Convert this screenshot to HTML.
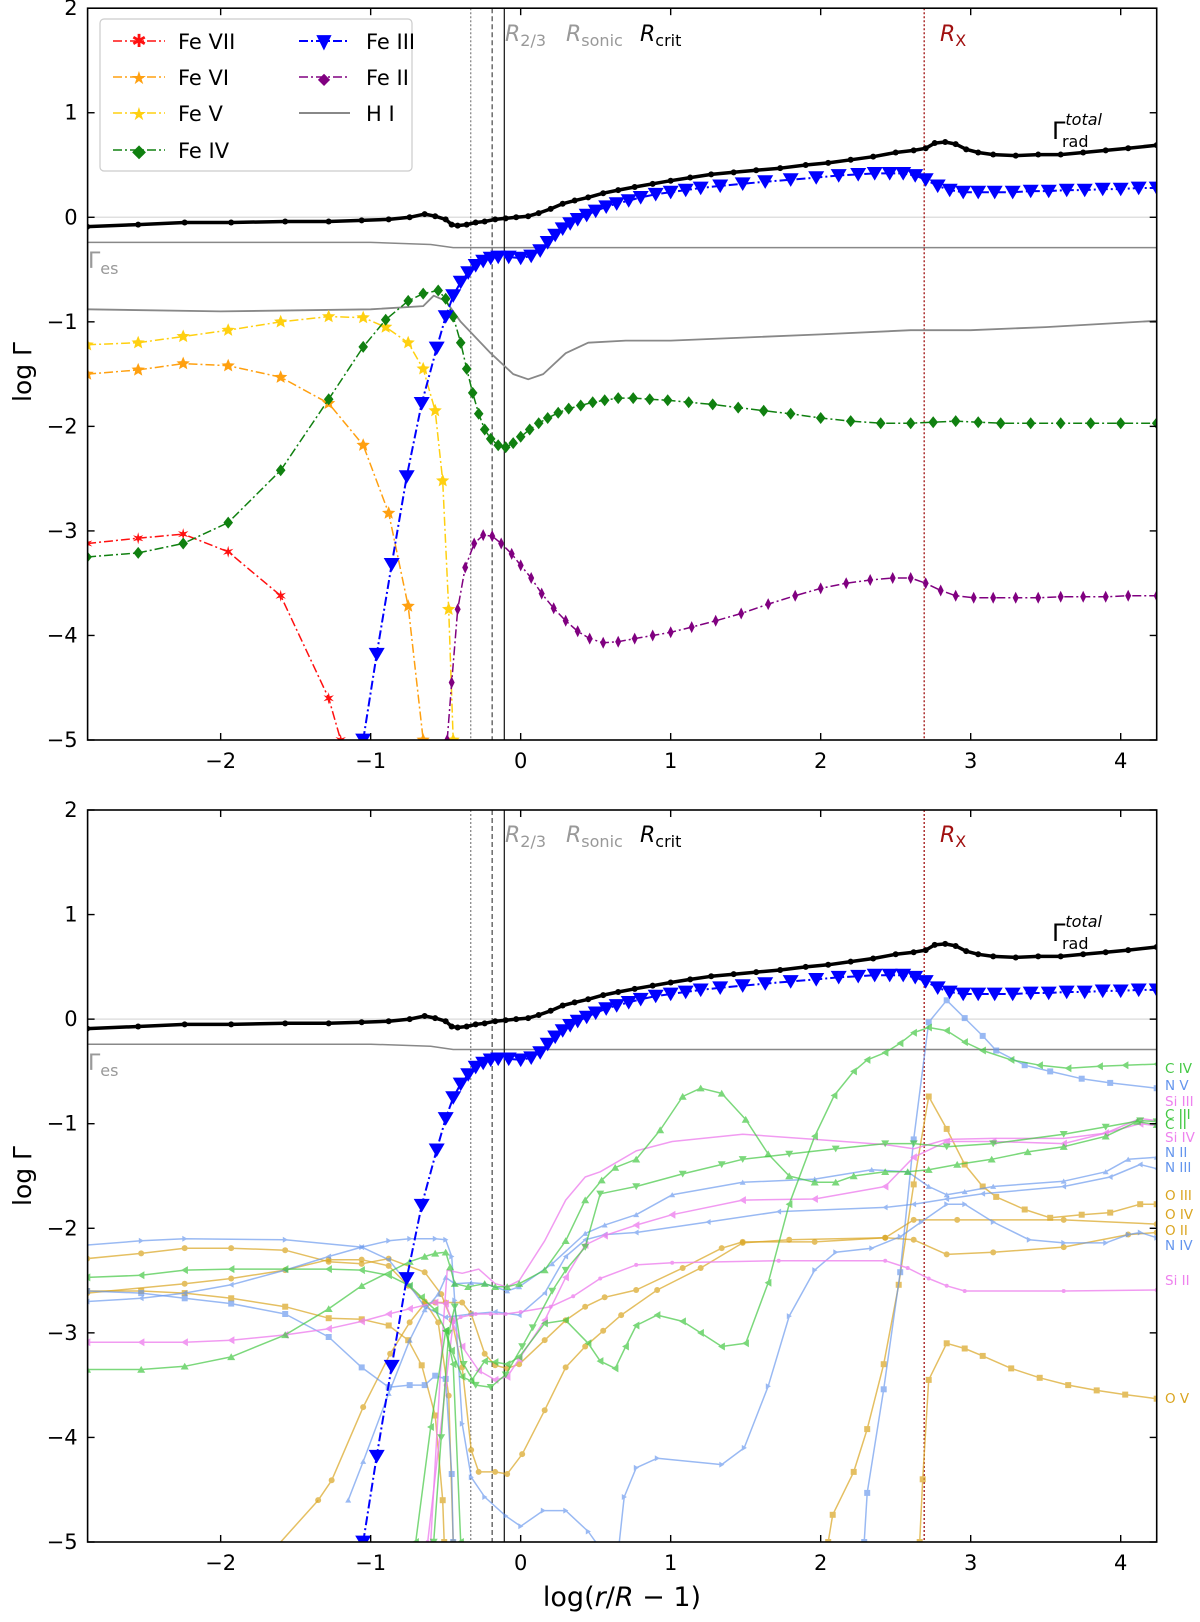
<!DOCTYPE html>
<html><head><meta charset="utf-8"><style>
body{margin:0;background:#fff}
svg text{font-family:"DejaVu Sans","Liberation Sans",sans-serif}
</style></head><body>
<svg id="fig" width="1200" height="1617" viewBox="0 0 1200 1617" xmlns="http://www.w3.org/2000/svg"></svg>
<script>
// ---------- data ----------
const xTicks=[-2,-1,0,1,2,3,4];
const yTicks=[-5,-4,-3,-2,-1,0,1,2];
const vLines=[-0.333,-0.19,-0.109,2.69];
const total=[[-2.89,-0.09],[-2.55,-0.07],[-2.24,-0.05],[-1.93,-0.05],[-1.57,-0.04],[-1.28,-0.04],[-1.06,-0.03],[-0.88,-0.02],[-0.74,0.0],[-0.64,0.03],[-0.57,0.01],[-0.5,-0.02],[-0.46,-0.07],[-0.42,-0.08],[-0.36,-0.07],[-0.3,-0.05],[-0.24,-0.04],[-0.17,-0.02],[-0.1,-0.01],[-0.03,0.0],[0.05,0.01],[0.12,0.04],[0.2,0.08],[0.28,0.13],[0.36,0.16],[0.45,0.19],[0.55,0.23],[0.65,0.26],[0.76,0.29],[0.88,0.32],[1.0,0.35],[1.13,0.38],[1.27,0.41],[1.42,0.43],[1.57,0.45],[1.73,0.47],[1.9,0.5],[2.05,0.52],[2.2,0.55],[2.35,0.58],[2.5,0.62],[2.62,0.64],[2.7,0.66],[2.76,0.71],[2.83,0.72],[2.9,0.7],[2.97,0.65],[3.05,0.62],[3.15,0.6],[3.3,0.59],[3.45,0.6],[3.6,0.6],[3.75,0.62],[3.9,0.64],[4.05,0.66],[4.24,0.69]];
const feIII=[[-1.05,-5],[-0.96,-4.18],[-0.86,-3.32],[-0.76,-2.48],[-0.66,-1.78],[-0.56,-1.25],[-0.5,-0.95],[-0.45,-0.75],[-0.4,-0.62],[-0.35,-0.53],[-0.3,-0.46],[-0.25,-0.42],[-0.2,-0.39],[-0.15,-0.38],[-0.08,-0.38],[0,-0.39],[0.07,-0.37],[0.13,-0.32],[0.18,-0.24],[0.23,-0.17],[0.28,-0.11],[0.33,-0.06],[0.38,-0.02],[0.44,0.02],[0.5,0.06],[0.57,0.1],[0.64,0.13],[0.72,0.16],[0.8,0.19],[0.9,0.22],[1.0,0.24],[1.1,0.26],[1.2,0.28],[1.33,0.3],[1.48,0.32],[1.63,0.34],[1.8,0.36],[1.97,0.38],[2.12,0.4],[2.25,0.41],[2.36,0.42],[2.46,0.42],[2.55,0.42],[2.63,0.4],[2.7,0.36],[2.78,0.3],[2.86,0.26],[2.95,0.24],[3.05,0.24],[3.16,0.24],[3.28,0.24],[3.4,0.25],[3.52,0.25],[3.64,0.26],[3.76,0.26],[3.88,0.27],[4.0,0.27],[4.12,0.28],[4.24,0.28]];
const feIV=[[-2.89,-3.25],[-2.55,-3.21],[-2.25,-3.12],[-1.95,-2.92],[-1.6,-2.42],[-1.28,-1.74],[-1.05,-1.24],[-0.9,-0.98],[-0.75,-0.8],[-0.65,-0.73],[-0.55,-0.7],[-0.5,-0.78],[-0.45,-0.95],[-0.4,-1.2],[-0.36,-1.45],[-0.32,-1.68],[-0.28,-1.88],[-0.24,-2.03],[-0.2,-2.12],[-0.15,-2.18],[-0.1,-2.2],[-0.05,-2.16],[0,-2.1],[0.06,-2.03],[0.12,-1.97],[0.18,-1.92],[0.25,-1.87],[0.32,-1.83],[0.4,-1.8],[0.48,-1.77],[0.56,-1.75],[0.65,-1.73],[0.75,-1.73],[0.86,-1.74],[0.98,-1.75],[1.12,-1.77],[1.28,-1.79],[1.45,-1.82],[1.62,-1.85],[1.8,-1.88],[2.0,-1.92],[2.2,-1.95],[2.4,-1.97],[2.6,-1.97],[2.75,-1.96],[2.9,-1.95],[3.05,-1.96],[3.2,-1.97],[3.4,-1.97],[3.6,-1.97],[3.8,-1.97],[4.0,-1.97],[4.24,-1.97]];
const feV=[[-2.89,-1.22],[-2.55,-1.2],[-2.25,-1.14],[-1.95,-1.08],[-1.6,-1.0],[-1.28,-0.95],[-1.05,-0.96],[-0.9,-1.05],[-0.75,-1.2],[-0.65,-1.45],[-0.57,-1.85],[-0.52,-2.52],[-0.48,-3.75],[-0.45,-5]];
const feVI=[[-2.89,-1.5],[-2.55,-1.46],[-2.25,-1.4],[-1.95,-1.42],[-1.6,-1.53],[-1.28,-1.78],[-1.05,-2.18],[-0.88,-2.83],[-0.75,-3.72],[-0.65,-5]];
const feVII=[[-2.89,-3.12],[-2.55,-3.07],[-2.25,-3.03],[-1.95,-3.2],[-1.6,-3.62],[-1.28,-4.6],[-1.2,-5]];
const feII=[[-0.49,-5],[-0.46,-4.45],[-0.42,-3.75],[-0.37,-3.35],[-0.31,-3.12],[-0.25,-3.04],[-0.19,-3.05],[-0.13,-3.12],[-0.06,-3.22],[0,-3.33],[0.07,-3.45],[0.14,-3.6],[0.22,-3.74],[0.3,-3.86],[0.38,-3.96],[0.46,-4.03],[0.55,-4.07],[0.65,-4.06],[0.76,-4.03],[0.88,-4.0],[1.0,-3.97],[1.14,-3.92],[1.3,-3.86],[1.47,-3.79],[1.65,-3.7],[1.83,-3.62],[2.0,-3.55],[2.17,-3.5],[2.33,-3.47],[2.48,-3.45],[2.6,-3.45],[2.7,-3.5],[2.8,-3.57],[2.9,-3.62],[3.02,-3.64],[3.15,-3.64],[3.3,-3.64],[3.45,-3.64],[3.6,-3.63],[3.75,-3.63],[3.9,-3.63],[4.05,-3.62],[4.24,-3.62]];
const hI=[[-2.89,-0.88],[-2,-0.9],[-1,-0.88],[-0.65,-0.85],[-0.58,-0.75],[-0.5,-0.8],[-0.4,-1.0],[-0.2,-1.3],[-0.05,-1.5],[0.05,-1.55],[0.15,-1.5],[0.3,-1.3],[0.45,-1.2],[0.7,-1.18],[1,-1.18],[1.5,-1.15],[2,-1.12],[2.6,-1.08],[3,-1.08],[3.5,-1.05],[4.24,-0.99]];
const gEs=[[-2.89,-0.24],[-1,-0.24],[-0.6,-0.26],[-0.45,-0.29],[0,-0.29],[4.24,-0.29]];
// bottom-panel ions
const cIV=[[-0.7,-5],[-0.6,-3.9],[-0.5,-2.98],[-0.46,-3.17],[-0.39,-3.42],[-0.33,-3.46],[-0.24,-3.27],[-0.17,-3.28],[-0.09,-3.3],[-0.01,-3.23],[0.16,-2.91],[0.3,-2.88],[0.45,-3.1],[0.53,-3.27],[0.63,-3.34],[0.7,-3.13],[0.77,-2.93],[0.91,-2.83],[1.08,-2.89],[1.2,-3.0],[1.34,-3.13],[1.5,-3.1],[1.65,-2.52],[1.79,-1.77],[1.96,-1.12],[2.09,-0.73],[2.22,-0.5],[2.31,-0.39],[2.43,-0.32],[2.53,-0.23],[2.62,-0.13],[2.72,-0.08],[2.84,-0.11],[2.96,-0.22],[3.08,-0.3],[3.27,-0.39],[3.46,-0.44],[3.65,-0.47],[3.86,-0.45],[4.03,-0.44],[4.24,-0.43]];
const cIVb=[[-2.89,-2.47],[-2.53,-2.45],[-2.24,-2.4],[-1.93,-2.39],[-1.57,-2.39],[-1.28,-2.39],[-1.06,-2.4],[-0.88,-2.45],[-0.74,-2.55],[-0.66,-2.66],[-0.57,-2.78],[-0.5,-2.98],[-0.45,-3.3],[-0.4,-5]];
const cIII=[[-2.89,-3.35],[-2.53,-3.35],[-2.24,-3.32],[-1.93,-3.23],[-1.57,-3.02],[-1.28,-2.77],[-1.06,-2.55],[-0.74,-2.32],[-0.64,-2.27],[-0.57,-2.24],[-0.5,-2.23],[-0.47,-2.37],[-0.44,-2.53],[-0.35,-2.56],[-0.24,-2.53],[-0.17,-2.56],[-0.09,-2.56],[-0.01,-2.53],[0.16,-2.4],[0.3,-2.12],[0.43,-1.73],[0.54,-1.54],[0.63,-1.42],[0.77,-1.34],[0.93,-1.06],[1.08,-0.74],[1.2,-0.66],[1.34,-0.71],[1.5,-0.96],[1.65,-1.29],[1.79,-1.5],[1.96,-1.56],[2.1,-1.56],[2.22,-1.5],[2.43,-1.46],[2.58,-1.46],[2.72,-1.44],[2.91,-1.39],[3.14,-1.34],[3.38,-1.27],[3.62,-1.22],[3.9,-1.12],[4.11,-0.98],[4.24,-1.01]];
const cII=[[-0.58,-5],[-0.53,-4.0],[-0.48,-3.0],[-0.44,-2.75],[-0.38,-3.3],[-0.3,-3.5],[-0.2,-3.52],[-0.1,-3.4],[0.01,-3.13],[0.08,-2.95],[0.21,-2.6],[0.3,-2.4],[0.43,-2.18],[0.53,-1.67],[0.77,-1.6],[1.08,-1.48],[1.34,-1.39],[1.48,-1.34],[1.79,-1.29],[2.1,-1.24],[2.43,-1.19],[2.62,-1.19],[2.84,-1.22],[3.15,-1.19],[3.62,-1.1],[3.9,-1.03],[4.13,-0.97],[4.24,-0.98]];
const siIII=[[-0.6,-5],[-0.52,-3.0],[-0.49,-2.4],[-0.39,-2.43],[-0.28,-2.39],[-0.17,-2.53],[-0.09,-2.56],[-0.01,-2.5],[0.16,-2.12],[0.3,-1.73],[0.43,-1.51],[0.53,-1.46],[0.77,-1.26],[1.01,-1.17],[1.48,-1.1],[1.96,-1.15],[2.43,-1.2],[2.62,-1.24],[2.84,-1.15],[3.15,-1.14],[3.62,-1.14],[3.9,-1.09],[4.13,-0.95],[4.24,-0.97]];
const siIV=[[-2.89,-3.09],[-2.53,-3.09],[-2.24,-3.09],[-1.93,-3.07],[-1.57,-3.02],[-1.28,-2.96],[-1.06,-2.89],[-0.88,-2.82],[-0.74,-2.77],[-0.57,-2.71],[-0.5,-2.72],[-0.46,-2.88],[-0.39,-3.13],[-0.28,-3.36],[-0.17,-3.45],[-0.09,-3.42],[-0.01,-3.25],[0.16,-2.88],[0.3,-2.47],[0.43,-2.16],[0.56,-2.07],[0.77,-1.97],[1.01,-1.87],[1.48,-1.73],[1.96,-1.72],[2.43,-1.6],[2.62,-1.32],[2.84,-1.17],[3.15,-1.17],[3.62,-1.19],[3.9,-1.09],[4.13,-1.0],[4.24,-1.02]];
const siII=[[-0.62,-5],[-0.5,-3.5],[-0.45,-2.9],[-0.4,-2.85],[-0.3,-2.82],[-0.2,-2.82],[-0.1,-2.82],[0.0,-2.8],[0.2,-2.75],[0.35,-2.65],[0.53,-2.48],[0.77,-2.35],[1.01,-2.33],[1.72,-2.31],[2.43,-2.31],[2.58,-2.38],[2.72,-2.48],[2.84,-2.55],[2.96,-2.6],[3.62,-2.6],[4.24,-2.59]];
const nV=[[2.29,-5],[2.31,-4.53],[2.42,-3.54],[2.53,-2.42],[2.62,-1.15],[2.72,-0.03],[2.84,0.18],[2.96,0.01],[3.08,-0.16],[3.17,-0.3],[3.36,-0.44],[3.53,-0.5],[3.74,-0.57],[3.93,-0.61],[4.24,-0.66]];
const nIV=[[-2.89,-2.16],[-2.53,-2.12],[-2.24,-2.1],[-1.57,-2.11],[-1.06,-2.18],[-0.88,-2.12],[-0.74,-2.1],[-0.57,-2.1],[-0.5,-2.11],[-0.46,-2.27],[-0.44,-2.69],[-0.39,-3.87],[-0.33,-4.38],[-0.24,-4.57],[-0.1,-4.75],[0.0,-4.85],[0.15,-4.7],[0.3,-4.7],[0.45,-4.9],[0.55,-5.1],[0.65,-5.1],[0.69,-4.57],[0.77,-4.29],[0.91,-4.2],[1.34,-4.26],[1.49,-4.1],[1.65,-3.51],[1.79,-2.84],[1.96,-2.4],[2.1,-2.23],[2.34,-2.19],[2.53,-2.08],[2.67,-1.94],[2.84,-1.77],[2.96,-1.77],[3.15,-1.94],[3.39,-2.11],[3.62,-2.14],[3.9,-2.14],[4.05,-2.06],[4.13,-2.04],[4.24,-2.09]];
const nIII=[[-2.89,-2.7],[-2.53,-2.67],[-2.24,-2.62],[-1.93,-2.54],[-1.57,-2.4],[-1.28,-2.27],[-1.06,-2.18],[-0.88,-2.3],[-0.74,-2.55],[-0.64,-2.75],[-0.5,-2.85],[-0.33,-2.82],[-0.17,-2.8],[-0.01,-2.83],[0.16,-2.62],[0.3,-2.27],[0.43,-2.11],[0.56,-2.06],[0.77,-2.04],[1.25,-1.94],[1.72,-1.84],[2.43,-1.8],[2.62,-1.77],[2.84,-1.72],[3.08,-1.67],[3.62,-1.6],[3.93,-1.51],[4.13,-1.39],[4.24,-1.43]];
const nII=[[-1.15,-4.6],[-1.05,-4.23],[-0.88,-3.58],[-0.74,-3.07],[-0.64,-2.78],[-0.55,-2.63],[-0.5,-2.47],[-0.44,-2.53],[-0.33,-2.52],[-0.24,-2.53],[-0.09,-2.6],[-0.01,-2.56],[0.21,-2.34],[0.43,-2.05],[0.56,-1.97],[0.77,-1.87],[1.01,-1.68],[1.48,-1.56],[1.96,-1.53],[2.34,-1.44],[2.58,-1.46],[2.72,-1.6],[2.84,-1.68],[2.96,-1.65],[3.15,-1.6],[3.62,-1.55],[3.9,-1.46],[4.05,-1.34],[4.24,-1.32]];
const nLow=[[-2.89,-2.6],[-2.53,-2.62],[-2.24,-2.67],[-1.93,-2.72],[-1.57,-2.82],[-1.28,-3.04],[-1.06,-3.33],[-0.88,-3.52],[-0.74,-3.5],[-0.64,-3.5],[-0.57,-3.41],[-0.5,-3.44],[-0.46,-4.35],[-0.45,-5]];
const oII=[[-2.89,-2.29],[-2.53,-2.24],[-2.24,-2.19],[-1.93,-2.19],[-1.57,-2.21],[-1.28,-2.32],[-1.06,-2.34],[-0.88,-2.29],[-0.64,-2.42],[-0.53,-2.63],[-0.46,-2.88],[-0.39,-3.33],[-0.33,-4.12],[-0.28,-4.33],[-0.17,-4.33],[-0.09,-4.35],[0.01,-4.16],[0.16,-3.74],[0.3,-3.33],[0.43,-3.13],[0.55,-2.98],[0.67,-2.83],[0.91,-2.59],[1.2,-2.38],[1.48,-2.14],[1.79,-2.11],[2.43,-2.09],[2.62,-2.11],[2.84,-2.25],[3.15,-2.23],[3.62,-2.18],[4.05,-2.06],[4.24,-2.04]];
const oIV=[[-1.35,-4.6],[-1.26,-4.41],[-1.05,-3.71],[-0.87,-3.2],[-0.74,-2.9],[-0.64,-2.72],[-0.57,-2.71],[-0.5,-2.71],[-0.39,-2.71],[-0.33,-2.82],[-0.24,-3.2],[-0.17,-3.31],[-0.09,-3.34],[-0.01,-3.3],[0.16,-3.07],[0.3,-2.88],[0.43,-2.75],[0.56,-2.66],[0.77,-2.59],[1.08,-2.38],[1.34,-2.19],[1.48,-2.13],[1.96,-2.13],[2.43,-2.09],[2.62,-1.92],[2.91,-1.92],[3.62,-1.92],[4.24,-1.96]];
const oIVb=[[-1.6,-5],[-1.35,-4.6]];
const oLeft=[[-2.89,-2.6],[-2.53,-2.6],[-2.24,-2.62],[-1.93,-2.67],[-1.57,-2.75],[-1.28,-2.86],[-1.06,-2.87],[-0.88,-2.93],[-0.75,-3.07],[-0.66,-3.31],[-0.57,-3.79],[-0.52,-4.6],[-0.51,-5]];
const oLeft2=[[-2.89,-2.62],[-2.24,-2.53],[-1.93,-2.48],[-1.57,-2.4],[-1.28,-2.3],[-1.06,-2.3],[-0.88,-2.36],[-0.75,-2.55],[-0.64,-2.7],[-0.55,-2.9],[-0.48,-3.6],[-0.45,-5]];
const oIII=[[2.05,-5],[2.08,-4.74],[2.22,-4.33],[2.31,-3.92],[2.42,-3.3],[2.52,-2.54],[2.62,-1.58],[2.72,-0.74],[2.84,-1.05],[2.96,-1.39],[3.08,-1.6],[3.17,-1.7],[3.36,-1.82],[3.53,-1.9],[3.74,-1.87],[3.93,-1.85],[4.13,-1.77],[4.24,-1.77]];
const oV=[[2.66,-5],[2.68,-4.4],[2.72,-3.45],[2.84,-3.1],[2.96,-3.15],[3.08,-3.22],[3.27,-3.34],[3.46,-3.43],[3.65,-3.5],[3.84,-3.55],[4.03,-3.59],[4.24,-3.63]];

// ---------- geometry ----------
const L=87.6,R=1156.7,XMIN=-2.887,XMAX=4.24;
const panels=[{t:8.2,b:740},{t:810,b:1542}];
const svg=document.getElementById('fig');
const NS='http://www.w3.org/2000/svg';
function xs(v){return L+(v-XMIN)/(XMAX-XMIN)*(R-L);}
function ys(p,v){return p.t+(2-v)/7*(p.b-p.t);}
function el(tag,attrs,parent){const e=document.createElementNS(NS,tag);for(const k in attrs)e.setAttribute(k,attrs[k]);(parent||svg).appendChild(e);return e;}

function markerPath(type,x,y,s){
  let pts=[];
  if(type==='star5'||type==='star6'){const n=type==='star5'?5:6,ri=type==='star5'?s*0.45:s*0.35;
    for(let i=0;i<2*n;i++){const a=-Math.PI/2+i*Math.PI/n,r=i%2?ri:s;pts.push([x+r*Math.cos(a),y+r*Math.sin(a)]);}}
  else if(type==='tdown')pts=[[x-s,y-s*0.8],[x+s,y-s*0.8],[x,y+s*0.9]];
  else if(type==='tup')pts=[[x-s,y+s*0.8],[x+s,y+s*0.8],[x,y-s*0.9]];
  else if(type==='tleft')pts=[[x+s*0.8,y-s],[x+s*0.8,y+s],[x-s*0.9,y]];
  else if(type==='tright')pts=[[x-s*0.8,y-s],[x-s*0.8,y+s],[x+s*0.9,y]];
  else if(type==='diamond')pts=[[x,y-s],[x+s*0.8,y],[x,y+s],[x-s*0.8,y]];
  else if(type==='thin')pts=[[x,y-s],[x+s*0.5,y],[x,y+s],[x-s*0.5,y]];
  else if(type==='square')pts=[[x-s*0.75,y-s*0.75],[x+s*0.75,y-s*0.75],[x+s*0.75,y+s*0.75],[x-s*0.75,y+s*0.75]];
  return 'M'+pts.map(p=>p[0].toFixed(1)+','+p[1].toFixed(1)).join('L')+'Z';
}

function series(g,p,data,o,name){
  const grp=el('g',{opacity:o.op||1},g);
  
  
  const d=data.map((q,i)=>(i?'L':'M')+xs(q[0]).toFixed(1)+','+ys(p,q[1]).toFixed(1)).join('');
  const ln=el('path',{d:d,fill:'none',stroke:o.c,'stroke-width':o.w||1.5,'stroke-dasharray':o.dash||'none','stroke-linejoin':'round'},grp);
  
  
  if(o.m){data.forEach(q=>{
    let m;
    if(o.m==='circle')m=el('circle',{cx:xs(q[0]),cy:ys(p,q[1]),r:o.s,fill:o.c},grp);
    else m=el('path',{d:markerPath(o.m,xs(q[0]),ys(p,q[1]),o.s),fill:o.c},grp);
    
    
  });}
}

// clip paths
const defs=el('defs',{});
panels.forEach((p,i)=>{const c=el('clipPath',{id:'clip'+i},defs);el('rect',{x:L,y:p.t,width:R-L,height:p.b-p.t},c);});

const DD='9 3 2 3';
panels.forEach((p,pi)=>{
  const g=el('g',{'clip-path':'url(#clip'+pi+')'});
  
  
  // zero line & es
  const z=el('line',{x1:L,x2:R,y1:ys(p,0),y2:ys(p,0),stroke:'#e0e0e0','stroke-width':1.5},g);
  
  
  series(g,p,gEs,{c:'#888',w:1.5},'gamma-es-line');
  // vertical lines
  const vs=[{c:'#888',dash:'2 2'},{c:'#555',dash:'5 3'},{c:'#222',dash:'none'},{c:'#a01010',dash:'2 2'}];
  vLines.forEach((v,i)=>{const l=el('line',{x1:xs(v),x2:xs(v),y1:p.t,y2:p.b,stroke:vs[i].c,'stroke-width':1.3,'stroke-dasharray':vs[i].dash},g);
    
    });
  if(pi===0){
    series(g,p,hI,{c:'#888',w:1.8},'h-i-series');
    series(g,p,feVII,{c:'#ff1010',w:1.5,dash:DD,m:'star6',s:6},'fe-vii-series');
    series(g,p,feVI,{c:'#ffa010',w:1.5,dash:DD,m:'star5',s:7},'fe-vi-series');
    series(g,p,feV,{c:'#ffd010',w:1.5,dash:DD,m:'star5',s:7},'fe-v-series');
    series(g,p,feIV,{c:'#108010',w:1.5,dash:DD,m:'diamond',s:6},'fe-iv-series');
    series(g,p,feII,{c:'#800080',w:1.5,dash:DD,m:'thin',s:6},'fe-ii-series');
  } else {
    const G='#44c844',B='#6495ed',P='#ee82ee',O='#daa520';
    series(g,p,oLeft,{c:O,w:1.5,m:'square',s:4,op:0.7},'o-ion-left-series');
    series(g,p,oLeft2,{c:O,w:1.5,m:'circle',s:3,op:0.7},'o-ion-left2-series');
    series(g,p,oIVb,{c:O,w:1.5,op:0.7},'o-iv-tail');
    series(g,p,oII,{c:O,w:1.5,m:'circle',s:3,op:0.7},'o-ii-series');
    series(g,p,oIV,{c:O,w:1.5,m:'circle',s:3,op:0.7},'o-iv-series');
    series(g,p,oIII,{c:O,w:1.5,m:'square',s:4,op:0.7},'o-iii-series');
    series(g,p,oV,{c:O,w:1.5,m:'square',s:4,op:0.7},'o-v-series');
    series(g,p,nLow,{c:B,w:1.5,m:'square',s:4,op:0.65},'n-ion-low-series');
    series(g,p,nIV,{c:B,w:1.5,m:'tright',s:3,op:0.65},'n-iv-series');
    series(g,p,nIII,{c:B,w:1.5,m:'tleft',s:3,op:0.65},'n-iii-series');
    series(g,p,nII,{c:B,w:1.5,m:'tup',s:3,op:0.65},'n-ii-series');
    series(g,p,nV,{c:B,w:1.5,m:'square',s:4,op:0.65},'n-v-series');
    series(g,p,siII,{c:P,w:1.5,m:'circle',s:2,op:0.8},'si-ii-series');
    series(g,p,siIV,{c:P,w:1.5,m:'tleft',s:4,op:0.8},'si-iv-series');
    series(g,p,siIII,{c:P,w:1.5,op:0.8},'si-iii-series');
    series(g,p,cIVb,{c:G,w:1.5,m:'tleft',s:4,op:0.7},'c-ion-left-series');
    series(g,p,cIII,{c:G,w:1.5,m:'tup',s:4,op:0.7},'c-iii-series');
    series(g,p,cII,{c:G,w:1.5,m:'tdown',s:4,op:0.7},'c-ii-series');
    series(g,p,cIV,{c:G,w:1.5,m:'tleft',s:4,op:0.7},'c-iv-series');
  }
  series(g,p,total,{c:'#000',w:3.5,m:'circle',s:3},'gamma-total-series');
  series(g,p,feIII,{c:'#0000ff',w:2,dash:DD,m:'tdown',s:8},'fe-iii-series');

  // frame
  const fr=el('rect',{x:L,y:p.t,width:R-L,height:p.b-p.t,fill:'none',stroke:'#000','stroke-width':1.6});
  
  
  xTicks.forEach(v=>{const x=xs(v);
    el('line',{x1:x,x2:x,y1:p.b,y2:p.b-7,stroke:'#000','stroke-width':1.4});
    el('line',{x1:x,x2:x,y1:p.t,y2:p.t+7,stroke:'#000','stroke-width':1.4});
    const t=el('text',{x:x,y:p.b+28,'font-size':21,'text-anchor':'middle'});
    t.textContent=(v<0?'\u2212':'')+Math.abs(v);
    
    });
  yTicks.forEach(v=>{const y=ys(p,v);
    el('line',{x1:L,x2:L+7,y1:y,y2:y,stroke:'#000','stroke-width':1.4});
    el('line',{x1:R,x2:R-7,y1:y,y2:y,stroke:'#000','stroke-width':1.4});
    const t=el('text',{x:L-10,y:y+7,'font-size':21,'text-anchor':'end'});
    t.textContent=(v<0?'\u2212':'')+Math.abs(v);
    
    });
});
</script>
<svg style="position:absolute;left:0;top:0" width="1200" height="1617" xmlns="http://www.w3.org/2000/svg" font-family="DejaVu Sans, Liberation Sans, sans-serif">
  <!-- y axis titles -->
  <text transform="translate(31,372) rotate(-90)" font-size="25" text-anchor="middle">log Γ</text>
  <text transform="translate(31,1176) rotate(-90)" font-size="25" text-anchor="middle">log Γ</text>
  <text x="622" y="1606" font-size="27" text-anchor="middle">log(<tspan font-style="italic">r</tspan>/<tspan font-style="italic">R</tspan> − 1)</text>
  <!-- radius labels top -->
  <g font-size="22">
    <text x="505" y="41" fill="#999"><tspan font-style="italic">R</tspan><tspan font-size="16" dy="5">2/3</tspan></text>
    <text x="566" y="41" fill="#999"><tspan font-style="italic">R</tspan><tspan font-size="16" dy="5">sonic</tspan></text>
    <text x="640" y="41" fill="#000"><tspan font-style="italic">R</tspan><tspan font-size="16" dy="5">crit</tspan></text>
    <text x="940" y="41" fill="#a01010"><tspan font-style="italic">R</tspan><tspan font-size="16" dy="5">X</tspan></text>
  </g>
  <g font-size="22">
    <text x="505" y="842" fill="#999"><tspan font-style="italic">R</tspan><tspan font-size="16" dy="5">2/3</tspan></text>
    <text x="566" y="842" fill="#999"><tspan font-style="italic">R</tspan><tspan font-size="16" dy="5">sonic</tspan></text>
    <text x="640" y="842" fill="#000"><tspan font-style="italic">R</tspan><tspan font-size="16" dy="5">crit</tspan></text>
    <text x="940" y="842" fill="#a01010"><tspan font-style="italic">R</tspan><tspan font-size="16" dy="5">X</tspan></text>
  </g>
  <!-- gamma labels -->
  <text x="1052" y="139" font-size="24">Γ<tspan font-size="16" font-style="italic" dy="-14" dx="0">total</tspan><tspan font-size="16" dx="-40" dy="22">rad</tspan></text>
  <text x="1052" y="941" font-size="24">Γ<tspan font-size="16" font-style="italic" dy="-14">total</tspan><tspan font-size="16" dx="-40" dy="22">rad</tspan></text>
  <text x="88" y="268" font-size="22" fill="#999">Γ<tspan font-size="16" dy="6">es</tspan></text>
  <text x="88" y="1070" font-size="22" fill="#999">Γ<tspan font-size="16" dy="6">es</tspan></text>
  <!-- legend -->
  <g font-size="21">
    <rect x="100" y="19" width="312" height="152" rx="4" fill="#fff" stroke="#ccc" stroke-width="1.2"/>
    <g><line x1="113" x2="165" y1="41" y2="41" stroke="#ff1010" stroke-width="1.5" stroke-dasharray="9 3 2 3"/><text x="139" y="47" fill="#ff1010" text-anchor="middle" font-size="18">✱</text><text x="178" y="49">Fe VII</text></g>
    <g><line x1="113" x2="165" y1="77" y2="77" stroke="#ffa010" stroke-width="1.5" stroke-dasharray="9 3 2 3"/><text x="139" y="84" fill="#ffa010" text-anchor="middle" font-size="18">★</text><text x="178" y="85">Fe VI</text></g>
    <g><line x1="113" x2="165" y1="113" y2="113" stroke="#ffd010" stroke-width="1.5" stroke-dasharray="9 3 2 3"/><text x="139" y="120" fill="#ffd010" text-anchor="middle" font-size="18">★</text><text x="178" y="121">Fe V</text></g>
    <g><line x1="113" x2="165" y1="150" y2="150" stroke="#108010" stroke-width="1.5" stroke-dasharray="9 3 2 3"/><text x="139" y="157" fill="#108010" text-anchor="middle" font-size="18">◆</text><text x="178" y="158">Fe IV</text></g>
    <g><line x1="299" x2="350" y1="41" y2="41" stroke="#0000ff" stroke-width="2" stroke-dasharray="9 3 2 3"/><text x="324" y="48" fill="#0000ff" text-anchor="middle" font-size="20">▼</text><text x="366" y="49">Fe III</text></g>
    <g><line x1="299" x2="350" y1="77" y2="77" stroke="#800080" stroke-width="1.5" stroke-dasharray="9 3 2 3"/><text x="324" y="84" fill="#800080" text-anchor="middle" font-size="16">◆</text><text x="366" y="85">Fe II</text></g>
    <g><line x1="299" x2="350" y1="113" y2="113" stroke="#888" stroke-width="2"/><text x="366" y="121">H I</text></g>
  </g>
  <!-- right ion labels -->
  <g font-size="13.5">
    <text x="1165" y="1073" fill="#44c844">C IV</text>
    <text x="1165" y="1090" fill="#6495ed">N V</text>
    <text x="1165" y="1106" fill="#ee82ee">Si III</text>
    <text x="1165" y="1119" fill="#44c844">C III</text>
    <text x="1165" y="1129" fill="#44c844">C II</text>
    <text x="1165" y="1142" fill="#ee82ee">Si IV</text>
    <text x="1165" y="1157" fill="#6495ed">N II</text>
    <text x="1165" y="1172" fill="#6495ed">N III</text>
    <text x="1165" y="1200" fill="#daa520">O III</text>
    <text x="1165" y="1219" fill="#daa520">O IV</text>
    <text x="1165" y="1235" fill="#daa520">O II</text>
    <text x="1165" y="1250" fill="#6495ed">N IV</text>
    <text x="1165" y="1285" fill="#ee82ee">Si II</text>
    <text x="1165" y="1403" fill="#daa520">O V</text>
  </g>
</svg>
</body></html>
